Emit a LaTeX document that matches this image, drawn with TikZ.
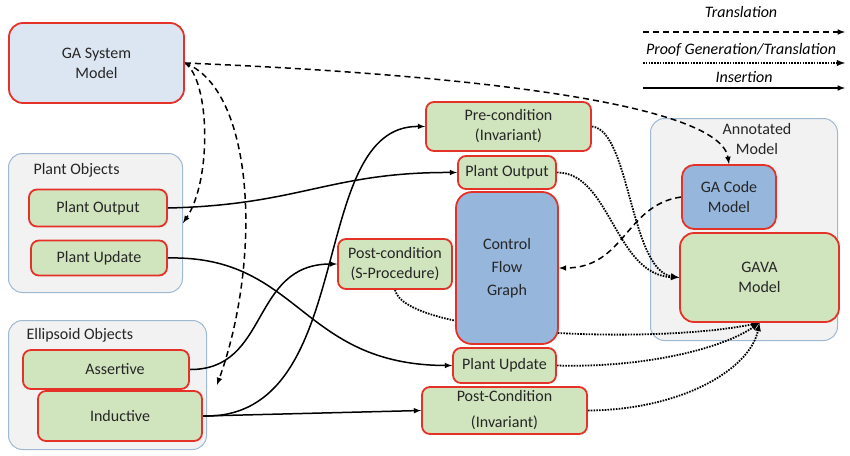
\documentclass[tikz,border=0pt]{standalone}
\usepackage{fontspec}
\setmainfont{Carlito}
\usepackage{tikz}
\usetikzlibrary{calc,positioning,arrows,backgrounds}
\pgfdeclarelayer{grp}
\pgfdeclarelayer{conn}
\pgfsetlayers{grp,conn,main}
\definecolor{boxred}{RGB}{229,50,40}
\definecolor{boxgreen}{RGB}{208,228,190}
\definecolor{cfgblue}{RGB}{150,182,220}
\definecolor{sysblue}{RGB}{220,230,242}
\definecolor{grpfill}{RGB}{242,242,242}
\definecolor{grpline}{RGB}{160,185,210}
\definecolor{txtgray}{RGB}{38,38,38}

\begin{document}
\begin{tikzpicture}[x=1pt, y=1pt, font=\fontsize{16}{20}\selectfont,
  blk/.style={draw=boxred, line width=1.8pt, rounded corners=8pt, fill=boxgreen, text=txtgray, align=center, inner sep=1pt},
  trans/.style={-latex, dash pattern=on 6pt off 4pt, line width=1.5pt},
  proof/.style={-latex, dash pattern=on 1.6pt off 1.2pt, line width=1.8pt},
  ins/.style={-latex, line width=1.5pt}]
\tikzstyle{grp}=[draw=grpline, line width=1pt, fill=grpfill, rounded corners=14pt]
\tikzstyle{lgd}=[font=\fontsize{16}{19}\selectfont\itshape]
\useasboundingbox (0,0) rectangle (850,-455);

% groups
\begin{pgfonlayer}{grp}
\node[grp, minimum width=174pt, minimum height=139pt] (pobj) at (95.5,-223) {};
\node[grp, minimum width=198pt, minimum height=129pt] (eobj) at (107.5,-385) {};
\node[grp, minimum width=187pt, minimum height=222pt] (amod) at (744,-229.5) {};
\end{pgfonlayer}
\node[anchor=west, text=txtgray] (pobjl) at (30,-170) {Plant Objects};
\node[anchor=west, text=txtgray] (eobjl) at (23,-335) {Ellipsoid Objects};
\node[align=center, text=txtgray] (amodl) at (757,-139) {Annotated\\Model};

% blocks
\node[blk, fill=sysblue, rounded corners=14pt, minimum width=175pt, minimum height=80pt] (sys) at (96.5,-63) {GA System\\Model};
\node[blk, minimum width=138pt, minimum height=37pt] (pout1) at (98,-208) {Plant Output};
\node[blk, minimum width=136pt, minimum height=35pt] (pupd1) at (99,-258) {Plant Update};
\node[blk, minimum width=166pt, minimum height=39pt] (asrt) at (106,-369.5) {\hspace{18pt}Assertive};
\node[blk, minimum width=164pt, minimum height=50pt] (ind) at (120,-416) {Inductive};
\node[blk, minimum width=165pt, minimum height=49pt] (pre) at (508.5,-126.5) {Pre-condition\\(Invariant)};
\node[blk, minimum width=98pt, minimum height=33pt] (pout2) at (507,-172.5) {Plant Output};
\node[blk, fill=cfgblue, rounded corners=16pt, minimum width=102pt, minimum height=152pt, font=\fontsize{16}{23}\selectfont] (cfg) at (507,-268) {Control\\Flow\\Graph};
\node[blk, minimum width=114pt, minimum height=50pt] (spost) at (395,-264) {Post-condition\\(S-Procedure)};
\node[blk, minimum width=103pt, minimum height=35pt] (pupd2) at (504.5,-365.5) {Plant Update};
\node[blk, minimum width=165pt, minimum height=47pt, font=\fontsize{16}{26}\selectfont] (ipost) at (504.5,-410.5) {Post-Condition\\(Invariant)};
\node[blk, fill=cfgblue, rounded corners=12pt, minimum width=94pt, minimum height=64pt] (gacode) at (729,-197) {GA Code\\Model};
\node[blk, rounded corners=14pt, minimum width=159pt, minimum height=89pt] (gava) at (759.5,-277.5) {GAVA\\Model};

% legend
\node[lgd] (ltra) at (741,-12) {Translation};
\node[lgd] (lprf) at (741,-50) {Proof Generation/Translation};
\node[lgd] (lins) at (744,-77) {Insertion};
\coordinate (ta) at (643,-32); \coordinate (tb) at (845,-32);
\coordinate (pa) at (643,-63); \coordinate (pb) at (845,-63);
\coordinate (ia) at (643,-88); \coordinate (ib) at (845,-88);
\draw[trans] (ta) -- (tb);
\draw[proof] (pa) -- (pb);
\draw[ins] (ia) -- (ib);

\begin{pgfonlayer}{conn}
% translation
\draw[trans] (sys.east) .. controls (480,-75) and (720,-105) .. (gacode.north);
\draw[trans] (sys.east) .. controls (210,-80) and (212,-180) .. (pobj.east);
\draw[trans] (sys.east) .. controls (255,-90) and (262,-260) .. ([xshift=10pt]eobj.east);
\draw[trans] (gacode.west) .. controls (625,-205) and (625,-268) .. (cfg.east);
% proof generation
\draw[proof] (pre.east) .. controls (630,-130) and (630,-270) .. (gava.west);
\draw[proof] (pout2.east) .. controls (610,-172) and (615,-275) .. (gava.west);
\draw[proof] (spost.south) .. controls (405,-335) and (650,-345) .. (gava.south);
\draw[proof] (pupd2.east) .. controls (640,-368) and (720,-350) .. (gava.south);
\draw[proof] (ipost.east) .. controls (680,-410) and (750,-370) .. (gava.south);
% insertion
\draw[ins] (pout1.east) .. controls (300,-205) and (330,-172) .. (pout2.west);
\draw[ins] (pupd1.east) .. controls (300,-255) and (300,-365) .. (pupd2.west);
\draw[ins] (asrt.east) .. controls (270,-370) and (250,-264) .. (spost.west);
\draw[ins] (ind.east) .. controls (360,-420) and (305,-125) .. (pre.west);
\draw[ins] (ind.east) -- (ipost.west);
\end{pgfonlayer}
\end{tikzpicture}
\end{document}
